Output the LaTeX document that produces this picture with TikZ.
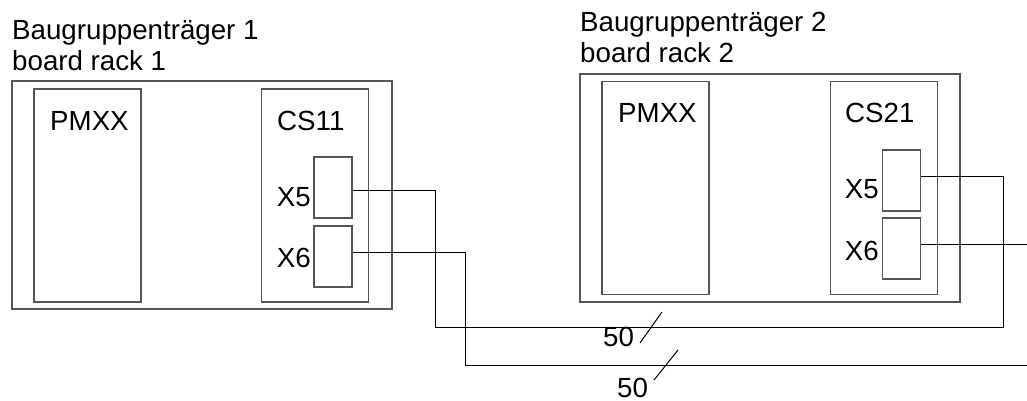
\documentclass[tikz,border=0pt]{standalone}
\usepackage{fontspec}
\setmainfont{Liberation Sans}
\definecolor{RackEdge}{HTML}{555555}
\definecolor{WireInk}{HTML}{000000}

\begin{document}
\begin{tikzpicture}[
        x=1pt, y=-1pt,
        rack/.style={draw=RackEdge, line width=1.2pt, minimum width=380pt, minimum height=228pt, inner sep=0pt},
        module/.style={draw=RackEdge, line width=1.2pt, minimum width=107pt, minimum height=213pt, inner sep=0pt},
        plug/.style={draw=RackEdge, line width=1.2pt, minimum width=38pt, minimum height=61pt, inner sep=0pt},
        lbl/.style={inner sep=0pt, font=\fontsize{27.7}{31}\selectfont},
        title/.style={lbl, align=left},
        wire/.style={draw=WireInk, line width=1pt}
    ]
        \useasboundingbox (0,0) rectangle (1027,401);

        % board rack 1
        \node[title, anchor=base west] (t1a) at (12,40) {Baugruppenträger 1};
        \node[title, anchor=base west] (t1b) at (12,71) {board rack 1};
        \node[rack] (rack1) at (202,195) {};
        \node[module] (pm1) at (87.5,195.5) {};
        \node[module] (cs1) at (315,195.5) {};
        \node[lbl, anchor=base west] (pm1t) at (50,130) {PMXX};
        \node[lbl, anchor=base west] (cs1t) at (277,130) {CS11};
        \node[plug] (x51) at (333,187.5) {};
        \node[plug] (x61) at (333,256.5) {};
        \node[lbl, anchor=base east] (x51t) at (311,206) {X5};
        \node[lbl, anchor=base east] (x61t) at (311,267) {X6};

        % board rack 2
        \node[title, anchor=base west] (t2a) at (580,32) {Baugruppenträger 2};
        \node[title, anchor=base west] (t2b) at (580,63) {board rack 2};
        \node[rack] (rack2) at (770,188) {};
        \node[module] (pm2) at (655.5,188) {};
        \node[module] (cs2) at (884,188) {};
        \node[lbl, anchor=base west] (pm2t) at (618,122) {PMXX};
        \node[lbl, anchor=base west] (cs2t) at (845,122) {CS21};
        \node[plug] (x52) at (901.5,180.5) {};
        \node[plug] (x62) at (901.5,248.5) {};
        \node[lbl, anchor=base east] (x52t) at (879,198) {X5};
        \node[lbl, anchor=base east] (x62t) at (879,260) {X6};

        % cables
        \coordinate (w5a) at (435,327);
        \coordinate (w5b) at (1003,327);
        \coordinate (w6a) at (465,365);
        \coordinate (w6b) at (1027,365);
        \draw[wire] ([yshift=-3pt]x51.east) -| (w5a) -- (w5b) |- ([yshift=4pt]x52.east);
        \draw[wire] ([yshift=4pt]x61.east) -| (w6a) -- (w6b);
        \draw[wire] ([yshift=4pt]x62.east) -- ([yshift=4pt]x62.east -| w6b);

        % wire counts
        \draw[wire] (640,343) -- (662,312);
        \draw[wire] (654,380) -- (678,350);
        \node[lbl, anchor=base west] (n5) at (603,346) {50};
        \node[lbl, anchor=base west] (n6) at (617,397) {50};
    \end{tikzpicture}
\end{document}
